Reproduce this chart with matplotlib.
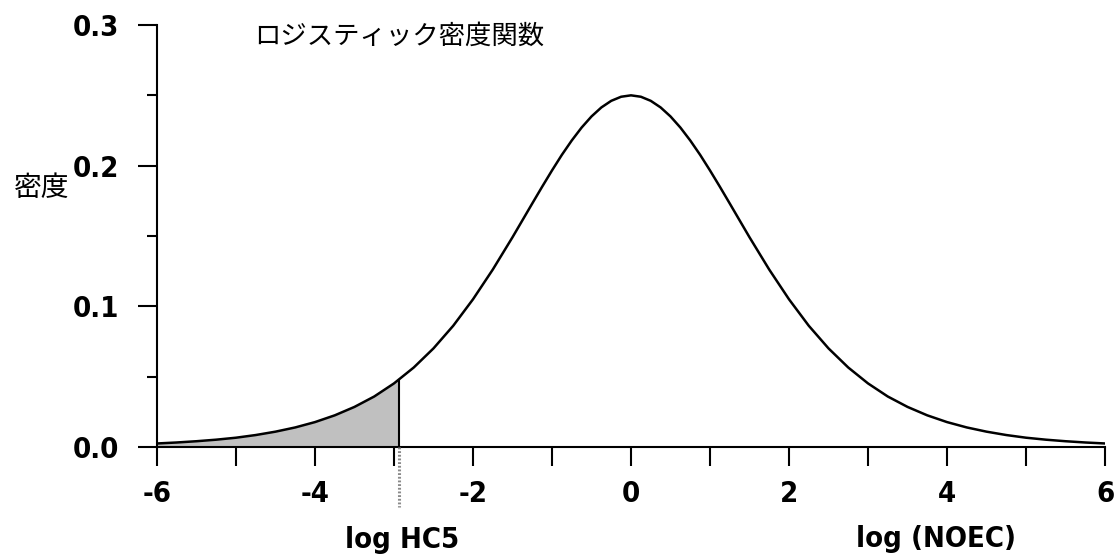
import matplotlib
matplotlib.use("Agg")
import matplotlib.pyplot as plt
from matplotlib import font_manager
from matplotlib.ticker import MultipleLocator

# curve (x = log NOEC, y = density)
x_vals = [-6.0, -5.75, -5.5, -5.25, -5.0, -4.75, -4.5, -4.25, -4.0, -3.75, -3.5, -3.25,
          -3.0, -2.75, -2.5, -2.25, -2.0, -1.75, -1.5, -1.375, -1.25, -1.125, -1.0, -0.875,
          -0.75, -0.625, -0.5, -0.375, -0.25, -0.125, 0.0, 0.125, 0.25, 0.375, 0.5, 0.625,
          0.75, 0.875, 1.0, 1.125, 1.25, 1.375, 1.5, 1.75, 2.0, 2.25, 2.5, 2.75,
          3.0, 3.25, 3.5, 3.75, 4.0, 4.25, 4.5, 4.75, 5.0, 5.25, 5.5, 5.75, 6.0]
density = [0.0025, 0.0032, 0.0041, 0.0052, 0.0066, 0.0085, 0.0109, 0.0139, 0.0177, 0.0225, 0.0285, 0.0359,
           0.0452, 0.0565, 0.0701, 0.0862, 0.1050, 0.1261, 0.1491, 0.1611, 0.1731, 0.1850, 0.1966, 0.2077,
           0.2179, 0.2271, 0.2350, 0.2414, 0.2461, 0.2490, 0.2500, 0.2490, 0.2461, 0.2414, 0.2350, 0.2271,
           0.2179, 0.2077, 0.1966, 0.1850, 0.1731, 0.1611, 0.1491, 0.1261, 0.1050, 0.0862, 0.0701, 0.0565,
           0.0452, 0.0359, 0.0285, 0.0225, 0.0177, 0.0139, 0.0109, 0.0085, 0.0066, 0.0052, 0.0041, 0.0032, 0.0025]

hc5_x = -2.94
hc5_y = 0.0475

x_ticks = [-6, -4, -2, 0, 2, 4, 6]
y_ticks = [0.0, 0.1, 0.2, 0.3]

title_text = "ロジスティック密度関数"
ylabel_text = "密度"
hc5_label = "log HC5"
xlabel_text = "log (NOEC)"

plt.rcParams["axes.unicode_minus"] = False

# narrow bold face if one is installed
names = {f.name for f in font_manager.fontManager.ttflist}
narrow = [n for n in ["Liberation Sans Narrow", "DejaVu Sans"] if n in names]
cjk = ["Noto Sans CJK JP", "DejaVu Sans"]
num_font = dict(family=narrow, weight="bold", stretch="condensed", size=21)


def main():
    fig = plt.figure(figsize=(11.18, 5.57), dpi=100)
    ax = fig.add_axes([0.1404, 0.1975, 0.8480, 0.7576])

    ax.plot(x_vals, density, color="black", lw=1.8, zorder=3)

    # shaded tail left of HC5
    fx = [x for x in x_vals if x <= hc5_x] + [hc5_x]
    fy = [y for x, y in zip(x_vals, density) if x <= hc5_x] + [hc5_y]
    ax.fill_between(fx, 0, fy, color="#c0c0c0", lw=0, zorder=1)
    ax.plot([hc5_x, hc5_x], [0, hc5_y], color="black", lw=1.5, zorder=3)
    ax.plot([hc5_x, hc5_x], [0, -0.043], color="#8a8a8a", lw=2.2, ls=(0, (0.6, 0.6)),
            clip_on=False, zorder=3)

    ax.set_xlim(-6, 6)
    ax.set_ylim(0, 0.3)

    for s in ["top", "right"]:
        ax.spines[s].set_visible(False)
    for s in ["left", "bottom"]:
        ax.spines[s].set_linewidth(1.5)

    ax.set_xticks(x_ticks)
    ax.xaxis.set_minor_locator(MultipleLocator(1))
    ax.set_yticks(y_ticks)
    ax.set_yticklabels([f"{v:.1f}" for v in y_ticks])
    ax.yaxis.set_minor_locator(MultipleLocator(0.05))

    ax.tick_params(axis="x", which="both", direction="out", length=14, width=1.5, pad=10)
    ax.tick_params(axis="y", which="major", direction="out", length=14, width=1.5, pad=13)
    ax.tick_params(axis="y", which="minor", direction="out", length=7, width=1.5)

    for lab in ax.get_xticklabels() + ax.get_yticklabels():
        lab.set_fontproperties(font_manager.FontProperties(**num_font))

    fig.text(0.357, 0.935, title_text, family=cjk, fontsize=19, ha="center", va="center")
    fig.text(0.037, 0.662, ylabel_text, family=cjk, fontsize=20, ha="center", va="center")
    fig.text(0.3596, 0.031, hc5_label, ha="center", va="center", **num_font)
    fig.text(0.837, 0.032, xlabel_text, ha="center", va="center", **num_font)

    fig.savefig("out.png", dpi=100)


if __name__ == "__main__":
    main()
